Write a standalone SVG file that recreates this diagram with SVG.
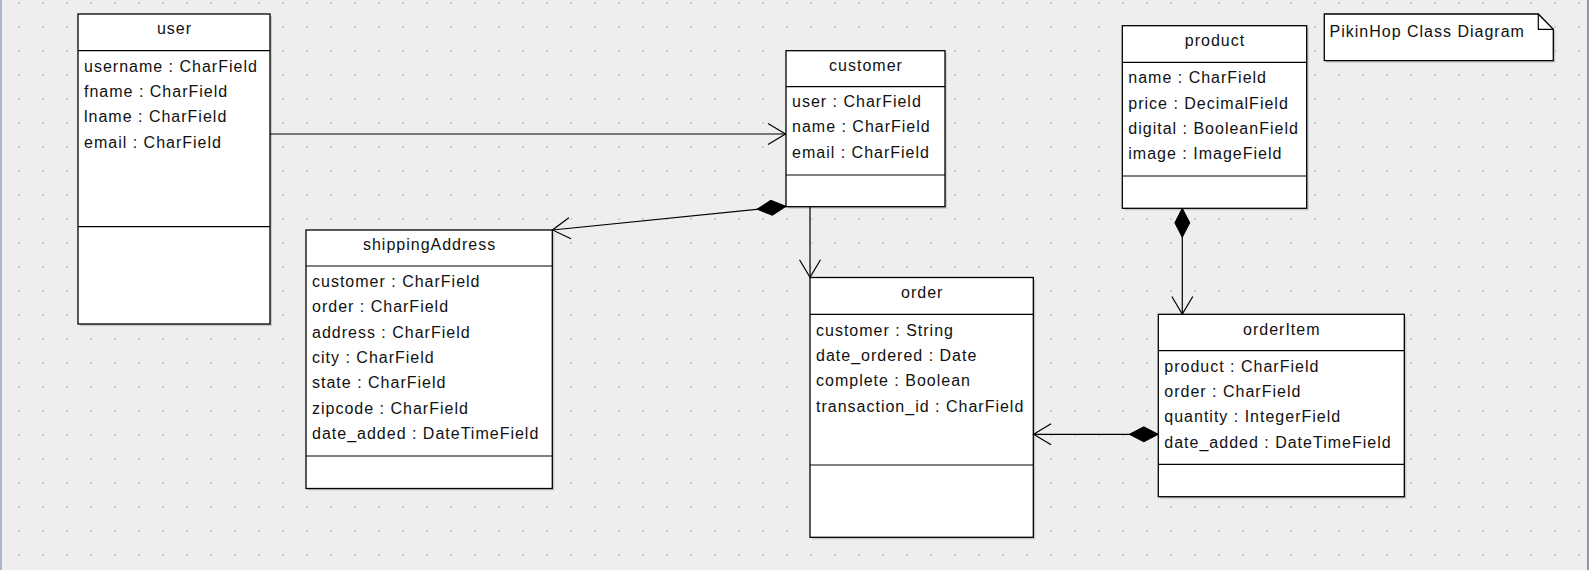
<svg xmlns="http://www.w3.org/2000/svg" width="1589" height="570" viewBox="0 0 1589 570">
<style>
.box{fill:#fff;stroke:#000;stroke-width:1.3}
.shadow{fill:#9a9a9a;opacity:0.45}
.sep{stroke:#000;stroke-width:1.2}
.t{font-family:"Liberation Sans",Arial,sans-serif;font-size:16px;letter-spacing:1px;fill:#111}
.title{text-anchor:middle}
.conn{fill:none;stroke:#000;stroke-width:1.2}
</style>
<defs>
<pattern id="grid" x="0" y="0" width="24" height="24" patternUnits="userSpaceOnUse">
<rect x="18" y="2" width="2" height="2" fill="#cdcdcd"/>
</pattern>
<marker id="arrow" viewBox="-20 -12 22 24" refX="0" refY="0" markerWidth="22" markerHeight="24" markerUnits="userSpaceOnUse" orient="auto">
<path d="M-17.5,-10.5 L0,0 L-17.5,10.5" fill="none" stroke="#000" stroke-width="1.2"/>
</marker>
<marker id="diamond" viewBox="-1 -9 32 18" refX="0" refY="0" markerWidth="32" markerHeight="18" markerUnits="userSpaceOnUse" orient="auto">
<path d="M0,0 L14.5,-7.5 L29,0 L14.5,7.5 Z" fill="#000" stroke="#000" stroke-width="1"/>
</marker>
</defs>
<rect x="0" y="0" width="1589" height="570" fill="#eeeeee"/>
<rect x="0" y="0" width="1589" height="570" fill="url(#grid)"/>
<line x1="1" y1="0" x2="1" y2="570" stroke="#a9b7c9" stroke-width="2"/>
<line x1="1588" y1="0" x2="1588" y2="570" stroke="#8d99a6" stroke-width="2"/>

<g id="user">
<rect class="shadow" x="80" y="16" width="192" height="310"/>
<rect class="box" x="78" y="14" width="192" height="310"/>
<line class="sep" x1="78" y1="50.7" x2="270" y2="50.7"/>
<line class="sep" x1="78" y1="226.7" x2="270" y2="226.7"/>
<text class="t title" x="174.5" y="33.5">user</text>
<text class="t" x="84" y="71.7">username : CharField</text>
<text class="t" x="84" y="97">fname : CharField</text>
<text class="t" x="84" y="122.3">lname : CharField</text>
<text class="t" x="84" y="147.6">email : CharField</text>
</g>

<g id="customer">
<rect class="shadow" x="788" y="52.7" width="159" height="156"/>
<rect class="box" x="786" y="50.7" width="159" height="156"/>
<line class="sep" x1="786" y1="86.7" x2="945" y2="86.7"/>
<line class="sep" x1="786" y1="175" x2="945" y2="175"/>
<text class="t title" x="866" y="70.5">customer</text>
<text class="t" x="792" y="106.7">user : CharField</text>
<text class="t" x="792" y="132.2">name : CharField</text>
<text class="t" x="792" y="157.7">email : CharField</text>
</g>

<g id="shippingAddress">
<rect class="shadow" x="308" y="232" width="246.3" height="258.5"/>
<rect class="box" x="306" y="230" width="246.3" height="258.5"/>
<line class="sep" x1="306" y1="266" x2="552.3" y2="266"/>
<line class="sep" x1="306" y1="456" x2="552.3" y2="456"/>
<text class="t title" x="429.6" y="250">shippingAddress</text>
<text class="t" x="312" y="287">customer : CharField</text>
<text class="t" x="312" y="312.3">order : CharField</text>
<text class="t" x="312" y="337.6">address : CharField</text>
<text class="t" x="312" y="362.9">city : CharField</text>
<text class="t" x="312" y="388.2">state : CharField</text>
<text class="t" x="312" y="413.5">zipcode : CharField</text>
<text class="t" x="312" y="438.8">date_added : DateTimeField</text>
</g>

<g id="order">
<rect class="shadow" x="812" y="279.5" width="223.3" height="259.8"/>
<rect class="box" x="810" y="277.5" width="223.3" height="259.8"/>
<line class="sep" x1="810" y1="314.3" x2="1033.3" y2="314.3"/>
<line class="sep" x1="810" y1="465" x2="1033.3" y2="465"/>
<text class="t title" x="922.2" y="297.5">order</text>
<text class="t" x="816" y="335.7">customer : String</text>
<text class="t" x="816" y="361">date_ordered : Date</text>
<text class="t" x="816" y="386.3">complete : Boolean</text>
<text class="t" x="816" y="411.6">transaction_id : CharField</text>
</g>

<g id="orderItem">
<rect class="shadow" x="1160.3" y="316.3" width="246" height="182.4"/>
<rect class="box" x="1158.3" y="314.3" width="246" height="182.4"/>
<line class="sep" x1="1158.3" y1="350.7" x2="1404.3" y2="350.7"/>
<line class="sep" x1="1158.3" y1="464.3" x2="1404.3" y2="464.3"/>
<text class="t title" x="1281.8" y="334.5">orderItem</text>
<text class="t" x="1164.3" y="371.7">product : CharField</text>
<text class="t" x="1164.3" y="397">order : CharField</text>
<text class="t" x="1164.3" y="422.3">quantity : IntegerField</text>
<text class="t" x="1164.3" y="447.6">date_added : DateTimeField</text>
</g>

<g id="product">
<rect class="shadow" x="1124.3" y="27.7" width="184.4" height="182.6"/>
<rect class="box" x="1122.3" y="25.7" width="184.4" height="182.6"/>
<line class="sep" x1="1122.3" y1="62.3" x2="1306.7" y2="62.3"/>
<line class="sep" x1="1122.3" y1="176" x2="1306.7" y2="176"/>
<text class="t title" x="1215" y="46">product</text>
<text class="t" x="1128.3" y="83.3">name : CharField</text>
<text class="t" x="1128.3" y="108.6">price : DecimalField</text>
<text class="t" x="1128.3" y="133.9">digital : BooleanField</text>
<text class="t" x="1128.3" y="159.2">image : ImageField</text>
</g>

<g id="note">
<path class="shadow" d="M1326.3,16 L1540.3,16 L1555.3,31 L1555.3,62.7 L1326.3,62.7 Z"/>
<path d="M1324.3,14 L1538.3,14 L1553.3,29.3 L1553.3,60.7 L1324.3,60.7 Z" fill="#fff" stroke="#000" stroke-width="1.3"/>
<path d="M1538.3,14 L1538.3,29.3 L1553.3,29.3" fill="none" stroke="#000" stroke-width="1.2"/>
<text class="t" x="1329.5" y="36.7">PikinHop Class Diagram</text>
</g>

<g id="connectors">
<path class="conn" d="M270,134 L785.5,134" marker-end="url(#arrow)"/>
<path class="conn" d="M786,206.3 L552.5,230" marker-start="url(#diamond)" marker-end="url(#arrow)"/>
<path class="conn" d="M810,206.7 L810,277.3" marker-end="url(#arrow)"/>
<path class="conn" d="M1182.3,208.3 L1182.3,314" marker-start="url(#diamond)" marker-end="url(#arrow)"/>
<path class="conn" d="M1158.3,434.3 L1033.6,434.3" marker-start="url(#diamond)" marker-end="url(#arrow)"/>
</g>
</svg>
